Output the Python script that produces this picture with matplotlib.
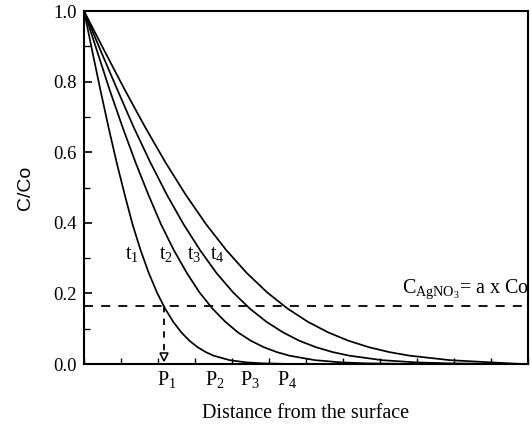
"""
Concentration profiles C/Co vs distance from the surface for four times t1..t4,
with the AgNO3 threshold line and the penetration depths P1..P4.
"""
import matplotlib
matplotlib.use("Agg")
import matplotlib.pyplot as plt
from matplotlib.ticker import MultipleLocator, NullFormatter

plt.rcParams.update({"font.family": "Liberation Serif",
                     "mathtext.fontset": "custom",
                     "mathtext.rm": "Liberation Serif",
                     "mathtext.it": "Liberation Serif:italic"})

# profile values (shared C/Co levels, distance per curve)
cc_levels = [1.0, 0.8875, 0.7773, 0.6714, 0.5716, 0.4795, 0.3961, 0.3222, 0.2579,
             0.2031, 0.1573, 0.1198, 0.0897, 0.0660, 0.0477, 0.0339, 0.0237,
             0.0109, 0.0047, 0.0019, 0.0004, 0.0]
x_t1 = [0, 0.22, 0.44, 0.66, 0.88, 1.10, 1.31, 1.53, 1.75, 1.97, 2.19, 2.41, 2.63,
        2.85, 3.07, 3.29, 3.50, 3.94, 4.38, 4.82, 5.48, 12.0]
x_t2 = [0, 0.35, 0.69, 1.04, 1.39, 1.74, 2.08, 2.43, 2.78, 3.12, 3.47, 3.82, 4.16,
        4.51, 4.86, 5.21, 5.55, 6.25, 6.94, 7.63, 8.68, 12.0]
x_t3 = [0, 0.45, 0.90, 1.34, 1.79, 2.24, 2.69, 3.14, 3.58, 4.03, 4.48, 4.93, 5.38,
        5.82, 6.27, 6.72, 7.17, 8.06, 8.96, 9.86, 11.2, 12.0]
x_t4 = [0, 0.55, 1.10, 1.65, 2.20, 2.75, 3.30, 3.85, 4.40, 4.95, 5.50, 6.05, 6.60,
        7.15, 7.70, 8.25, 8.80, 9.90, 11.0, 11.5, 11.8, 12.0]
curves = [x_t1, x_t2, x_t3, x_t4]
curve_labels = [r"t$_1$", r"t$_2$", r"t$_3$", r"t$_4$"]
curve_label_x = [1.30, 2.23, 2.99, 3.61]
threshold = 0.165
p_labels = [r"P$_1$", r"P$_2$", r"P$_3$", r"P$_4$"]
p_x = [2.23, 3.53, 4.48, 5.49]
p1_x = 2.15

fig = plt.figure(figsize=(5.32, 4.25), dpi=100)
ax = fig.add_axes([0.158, 0.1435, 0.834, 0.8305])
ax.set_xlim(0, 12)
ax.set_ylim(0, 1.0)

for xs in curves:
    ax.plot(xs, cc_levels, color="black", lw=1.25, solid_capstyle="round", clip_on=False)

ax.axhline(threshold, color="black", lw=1.3, dashes=(5, 4.5))
ax.plot([p1_x, p1_x], [threshold, 0.03], color="black", lw=1.3, dashes=(3.5, 3.5))
ax.plot([p1_x], [0.02], marker="v", ms=6, mfc="white", mec="black", mew=1.1)

for lab, lx in zip(curve_labels, curve_label_x):
    ax.text(lx, 0.31, lab, fontsize=14.5, ha="center", va="center")
for lab, px in zip(p_labels, p_x):
    ax.text(px, -0.045, lab, fontsize=14.5, ha="center", va="center", clip_on=False)

ax.text(8.60, 0.212, r"C$_{\mathrm{AgNO_3}}$= a x Co", fontsize=14.5, ha="left", va="center",
        clip_on=False)

ax.set_ylabel("C/Co", fontsize=14, family="Liberation Sans", labelpad=14)
ax.set_xlabel("Distance from the surface", fontsize=14.5, labelpad=25)

ax.xaxis.set_major_locator(MultipleLocator(1))
ax.xaxis.set_major_formatter(NullFormatter())
ax.yaxis.set_minor_locator(MultipleLocator(0.1))
ax.set_yticks([0, 0.2, 0.4, 0.6, 0.8, 1.0])
ax.set_yticklabels(["0.0", "0.2", "0.4", "0.6", "0.8", "1.0"], fontsize=13.5)
ax.tick_params(axis="y", which="major", direction="in", length=6, width=1.2, pad=5)
ax.tick_params(axis="y", which="minor", direction="in", length=4, width=1.0)
ax.tick_params(axis="x", which="major", direction="in", length=4, width=1.0)
for s in ax.spines.values():
    s.set_linewidth(1.5)

fig.savefig("out.png", dpi=100, facecolor="white")
